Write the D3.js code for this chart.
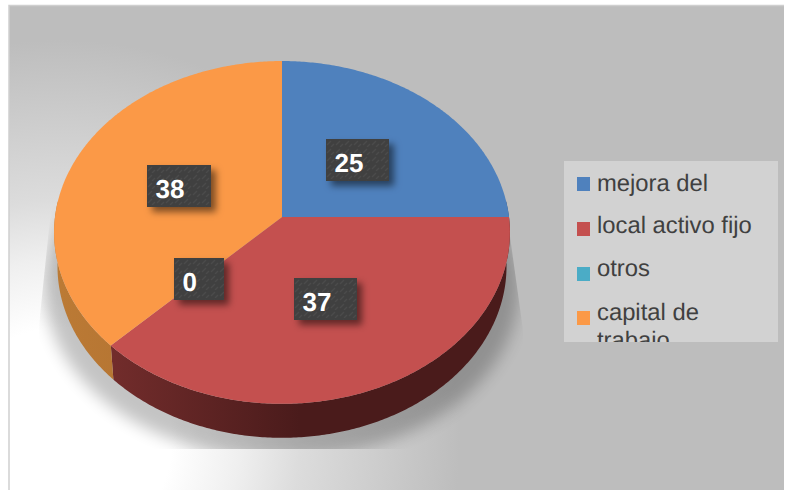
<!DOCTYPE html>
<script src="https://d3js.org/d3.v7.min.js"></script>

<style>
html, body {margin: 0; background: white;}
svg {display: block;}
text {font-family: "Liberation Sans", Arial, sans-serif; text-rendering: geometricPrecision;}
.legend text {font-size: 23.8px; fill: #404040;}
.tag text {font-size: 26px; font-weight: bold; fill: white;}
</style>

<svg width="785" height="490"></svg>

<script>
var categories = ["mejora del", "local activo fijo", "otros", "capital de trabajo"];
var values = [25, 37, 0, 38];
var colors = ["#4f81bd", "#c4504f", "#4bacc6", "#fb9947"];
var wallDark = ["#2f4d72", "#4a1b1b", "#2d6777", "#a8692c"];
var wallLight = ["#3d6390", "#7d3130", "#3a8195", "#bb7a35"];

var svg = d3.select("svg"),
    width = +svg.attr("width"),
    height = +svg.attr("height");

var defs = svg.append("defs");

// panel background, pale spot in the lower left corner
var bg = defs.append("radialGradient").attr("id", "bg")
    .attr("gradientUnits", "userSpaceOnUse")
    .attr("cx", 60).attr("cy", 440).attr("r", 400);
[[0, "#ffffff"], [0.28, "#ffffff"], [0.45, "#efefef"], [0.6, "#dcdcdc"], [0.82, "#cbcbcb"], [1, "#bdbdbd"]]
    .forEach(function(s) {
        bg.append("stop").attr("offset", s[0]).attr("stop-color", s[1]);
    });

defs.append("filter").attr("id", "blur")
    .attr("x", "-20%").attr("y", "-20%").attr("width", "140%").attr("height", "140%")
    .append("feGaussianBlur").attr("stdDeviation", 8);

// the cast shadow is cut off by a wedge with hard edges
defs.append("clipPath").attr("id", "shadowClip")
    .append("path").attr("d", "M53,190L39,325L39,449L523,449L523,330L507,215Z");

defs.append("clipPath").attr("id", "legendClip")
    .append("rect").attr("x", 564).attr("y", 161).attr("width", 214).attr("height", 181);

var shadow = defs.append("filter").attr("id", "tagShadow")
    .attr("x", "-20%").attr("y", "-20%").attr("width", "150%").attr("height", "160%");
shadow.append("feDropShadow").attr("dx", 5).attr("dy", 5).attr("stdDeviation", 3.5)
    .attr("flood-color", "#000").attr("flood-opacity", 0.5);

// little diagonal flecks on the label boxes
var fleck = defs.append("pattern").attr("id", "fleck")
    .attr("patternUnits", "userSpaceOnUse").attr("width", 9).attr("height", 8);
fleck.append("rect").attr("width", 9).attr("height", 8).attr("fill", "#404040");
fleck.append("path").attr("d", "M1,6L5,2M5,8L8,5")
    .attr("stroke", "#4c4c4c").attr("stroke-width", 1.2);

svg.append("rect")
    .attr("x", 9).attr("y", 5.5).attr("width", 775).attr("height", 490)
    .attr("fill", "url(#bg)");
svg.append("path")
    .attr("d", "M9,490V5.5H784")
    .attr("fill", "none").attr("stroke", "#cfcfcf").attr("stroke-width", 1.5);

// tilted disc: unit circle goes through a small perspective
var cx = 282, cy = 217, R = 227, k = 0.09, A = 170, depth = 34;

function project(a, scale, dy) {
    // the front of the disc takes a bit more of the turn than the sides
    var t = a + 0.03 * Math.sin(2 * a);
    var u = Math.sin(t), v = -Math.cos(t), w = 1 - k * v;
    return [cx + scale * R * u / w, cy + dy + A * v / w];
}

var line = d3.line();
var pieData = d3.pie().sort(null)(values);

function rim(start, end, scale, dy) {
    var n = Math.max(2, Math.ceil((end - start) / 0.01));
    return d3.range(n + 1).map(function(i) {
        return project(start + (end - start) * i / n, scale, dy);
    });
}

svg.append("g").attr("clip-path", "url(#shadowClip)")
    .append("path")
    .attr("d", line(rim(0, 2 * Math.PI, 1.04, 55)) + "Z")
    .attr("fill", "#000").attr("opacity", 0.23)
    .attr("filter", "url(#blur)");

// side wall, only the front half of the rim shows
pieData.forEach(function(d, i) {
    var start = Math.max(d.startAngle, Math.PI / 2 - 0.1),
        end = Math.min(d.endAngle, 3 * Math.PI / 2 + 0.1);
    if (end <= start) return;
    var grad = defs.append("linearGradient").attr("id", "wall" + i)
        .attr("gradientUnits", "userSpaceOnUse")
        .attr("x1", 60).attr("x2", 300).attr("y1", 0).attr("y2", 0);
    grad.append("stop").attr("offset", "0%").attr("stop-color", wallLight[i]);
    grad.append("stop").attr("offset", "100%").attr("stop-color", wallDark[i]);
    var top = rim(start, end, 1, 0),
        bottom = rim(start, end, 0.985, depth).reverse();
    svg.append("path")
        .attr("d", line(top.concat(bottom)) + "Z")
        .attr("fill", "url(#wall" + i + ")");
});

// top face
svg.append("g").selectAll("path").data(pieData).enter().append("path")
    .attr("d", function(d) {
        return line([[cx, cy]].concat(rim(d.startAngle, d.endAngle, 1, 0))) + "Z";
    })
    .attr("fill", function(d, i) { return colors[i]; });

// data labels
var tagBoxes = [
    {x: 326, y: 139, w: 63},
    {x: 294, y: 278, w: 63},
    {x: 174, y: 258, w: 50},
    {x: 147, y: 165, w: 64}
];

var tag = svg.selectAll(".tag").data(values).enter().append("g")
    .attr("class", "tag")
    .attr("transform", function(d, i) {
        return "translate(" + tagBoxes[i].x + "," + tagBoxes[i].y + ")";
    });

tag.append("rect")
    .attr("width", function(d, i) { return tagBoxes[i].w; })
    .attr("height", 42)
    .attr("fill", "url(#fleck)")
    .attr("filter", "url(#tagShadow)");

tag.append("text")
    .attr("x", 8.5).attr("y", 33)
    .text(function(d) { return d; });

// legend
svg.append("rect")
    .attr("x", 564).attr("y", 161).attr("width", 214).attr("height", 181)
    .attr("fill", "#d2d2d2");

var legendY = [177, 222, 267, 311];
var legendWrap = {"capital de trabajo": ["capital de", "trabajo"]};

var legend = svg.append("g").attr("class", "legend").attr("clip-path", "url(#legendClip)")
    .selectAll("g").data(categories).enter().append("g")
    .attr("transform", function(d, i) { return "translate(577," + legendY[i] + ")"; });

legend.append("rect")
    .attr("width", 13).attr("height", 14)
    .attr("fill", function(d, i) { return colors[i]; });

legend.append("text")
    .attr("x", 20).attr("y", function(d, i) { return i == 1 ? 11 : i == 0 ? 14 : 9; })
    .selectAll("tspan")
    .data(function(d) { return legendWrap[d] || [d]; })
    .enter().append("tspan")
    .attr("x", 20)
    .attr("dy", function(d, i) { return i ? 28 : 0; })
    .text(function(d) { return d; });
</script>
